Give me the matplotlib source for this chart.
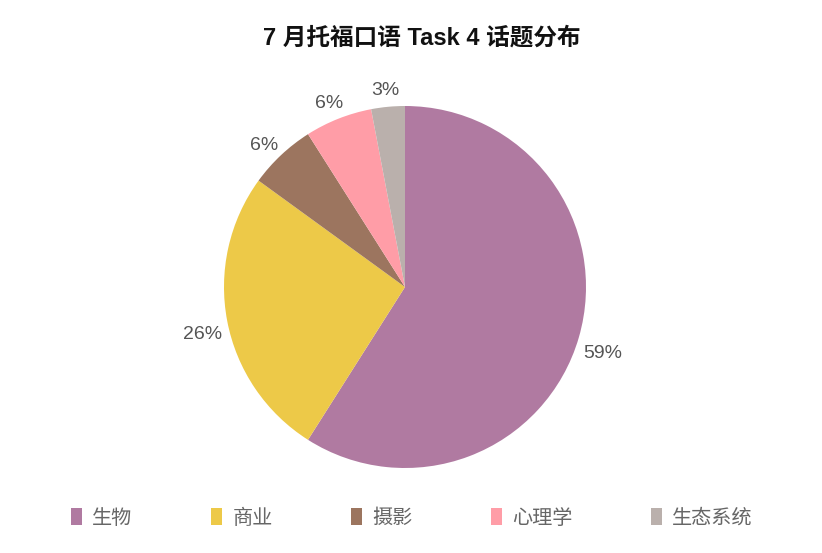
import matplotlib
matplotlib.use("Agg")
import matplotlib.pyplot as plt
from matplotlib.patches import Patch

plt.rcParams['font.family'] = ['Noto Sans CJK SC', 'DejaVu Sans']

topics = ["生物", "商业", "摄影", "心理学", "生态系统"]
shares = [59, 26, 6, 6, 3]
colors = ["#B07AA1", "#EDC948", "#9C755F", "#FF9DA7", "#BAB0AC"]

W, H = 822, 553
fig = plt.figure(figsize=(W / 100, H / 100), dpi=100)

# pie centre (405, 287) px, radius ~181 px
r_px = 181
lim = 1.4
size = 2 * lim * r_px
cx, cy = 405, H - 287
ax = fig.add_axes([(cx - size / 2) / W, (cy - size / 2) / H, size / W, size / H])

wedges, texts = ax.pie(
    shares, colors=colors, startangle=90, counterclock=False,
    radius=1.0, labels=[f"{v}%" for v in shares], labeldistance=1.14,
    textprops=dict(color="#555555", fontsize=14),
)
for t in texts:
    t.set_horizontalalignment("center")
    t.set_verticalalignment("top")
    t.set_family(["Liberation Sans", "DejaVu Sans"])
ax.set_xlim(-lim, lim)
ax.set_ylim(-lim, lim)
ax.set_aspect("equal")
ax.axis("off")

fig.text(422 / W, 1 - 38 / H, "7 月托福口语 Task 4 话题分布", ha="center", va="center",
         fontsize=17, fontweight="bold", color="#111111",
         family=["Liberation Sans", "Noto Sans CJK SC"])

handles = [Patch(facecolor=c, edgecolor="none") for c in colors]
fig.legend(handles, topics, loc="center", bbox_to_anchor=(412 / W, 1 - 518 / H),
           ncol=5, frameon=False, fontsize=14.5, labelcolor="#666666",
           handlelength=0.55, handleheight=0.9, handletextpad=0.5,
           columnspacing=3.9)

fig.savefig("out.png", dpi=100, facecolor="white")
